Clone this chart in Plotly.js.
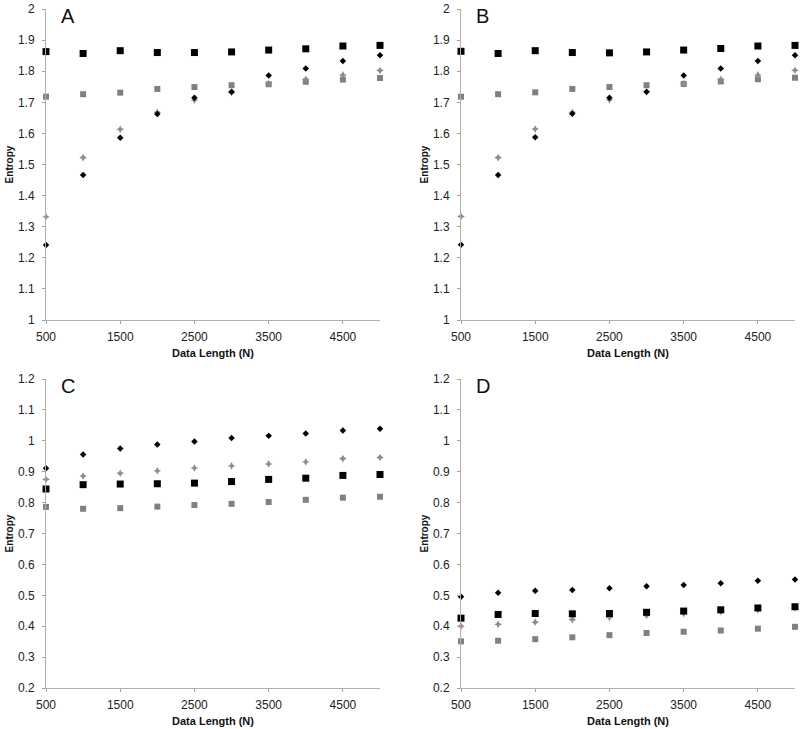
<!DOCTYPE html>
<html>
<head>
<meta charset="utf-8">
<script src="https://cdn.plot.ly/plotly-3.0.1.min.js"></script>
<style>html,body{margin:0;padding:0;background:#fff;}#chart{width:800px;height:729px;}</style>
</head>
<body>
<div id="chart"></div>
<script>
// Data length (N)
const dataLength = [500, 1000, 1500, 2000, 2500, 3000, 3500, 4000, 4500, 5000];

// Panel A
const A_blackSquare = [1.863, 1.857, 1.866, 1.860, 1.860, 1.862, 1.868, 1.872, 1.881, 1.883];
const A_graySquare  = [1.718, 1.726, 1.731, 1.743, 1.749, 1.755, 1.758, 1.766, 1.773, 1.778];
const A_blackDiamond= [1.241, 1.466, 1.586, 1.662, 1.715, 1.734, 1.786, 1.809, 1.833, 1.851];
const A_grayStar    = [1.332, 1.522, 1.613, 1.668, 1.707, 1.731, 1.760, 1.774, 1.788, 1.802];

// Panel B
const B_blackSquare = [1.864, 1.857, 1.866, 1.860, 1.859, 1.862, 1.868, 1.873, 1.881, 1.883];
const B_graySquare  = [1.718, 1.726, 1.732, 1.743, 1.749, 1.755, 1.759, 1.767, 1.774, 1.779];
const B_blackDiamond= [1.242, 1.466, 1.588, 1.663, 1.715, 1.734, 1.786, 1.809, 1.833, 1.851];
const B_grayStar    = [1.333, 1.522, 1.614, 1.668, 1.708, 1.733, 1.760, 1.774, 1.788, 1.803];

// Panel C
const C_blackSquare = [0.844, 0.858, 0.860, 0.861, 0.863, 0.868, 0.875, 0.879, 0.888, 0.891];
const C_graySquare  = [0.786, 0.780, 0.782, 0.787, 0.792, 0.796, 0.802, 0.809, 0.816, 0.819];
const C_blackDiamond= [0.911, 0.956, 0.975, 0.988, 0.998, 1.009, 1.016, 1.024, 1.033, 1.039];
const C_grayStar    = [0.875, 0.886, 0.895, 0.903, 0.912, 0.919, 0.925, 0.932, 0.942, 0.946];

// Panel D
const D_blackSquare = [0.426, 0.438, 0.441, 0.440, 0.441, 0.445, 0.449, 0.453, 0.459, 0.463];
const D_graySquare  = [0.351, 0.353, 0.358, 0.364, 0.371, 0.378, 0.382, 0.386, 0.392, 0.398];
const D_blackDiamond= [0.495, 0.508, 0.515, 0.517, 0.523, 0.529, 0.533, 0.539, 0.547, 0.551];
const D_grayStar    = [0.400, 0.406, 0.413, 0.421, 0.428, 0.435, 0.441, 0.447, 0.453, 0.459];

const panelLetters = ['A', 'B', 'C', 'D'];
const xTickVals = [500, 1500, 2500, 3500, 4500];
const yTicksTop = [1, 1.1, 1.2, 1.3, 1.4, 1.5, 1.6, 1.7, 1.8, 1.9, 2];
const yTicksBottom = [0.2, 0.3, 0.4, 0.5, 0.6, 0.7, 0.8, 0.9, 1, 1.1, 1.2];

const panels = [
  {bs: A_blackSquare, gs: A_graySquare, bd: A_blackDiamond, gst: A_grayStar},
  {bs: B_blackSquare, gs: B_graySquare, bd: B_blackDiamond, gst: B_grayStar},
  {bs: C_blackSquare, gs: C_graySquare, bd: C_blackDiamond, gst: C_grayStar},
  {bs: D_blackSquare, gs: D_graySquare, bd: D_blackDiamond, gst: D_grayStar}
];

const traces = [];
panels.forEach((p, i) => {
  const xa = i === 0 ? 'x' : 'x' + (i + 1);
  const ya = i === 0 ? 'y' : 'y' + (i + 1);
  const base = {x: dataLength, xaxis: xa, yaxis: ya, mode: 'markers', type: 'scatter', showlegend: false, cliponaxis: false, hoverinfo: 'x+y'};
  traces.push(Object.assign({}, base, {y: p.gs, marker: {symbol: 'square', size: 6, color: '#808080'}}));
  traces.push(Object.assign({}, base, {y: p.gst, marker: {symbol: 'star-diamond', size: 5.5, color: '#8c8c8c'}}));
  traces.push(Object.assign({}, base, {y: p.bs, marker: {symbol: 'square', size: 7, color: '#000000'}}));
  traces.push(Object.assign({}, base, {y: p.bd, marker: {symbol: 'diamond', size: 5, color: '#000000'}}));
});

const W = 800, H = 729;
const colX = [[46, 380], [461, 795]];
const rowY = [[9, 320], [379, 688]];
const fx = px => px / W;
const fy = py => 1 - py / H;

const tickFont = {family: 'Liberation Sans, Arial, sans-serif', size: 12, color: '#222'};
const titleFont = {family: 'Liberation Sans, Arial, sans-serif', size: 10, color: '#111', weight: 'bold'};

const layout = {
  width: W, height: H,
  margin: {l: 0, r: 0, t: 0, b: 0},
  paper_bgcolor: '#fff', plot_bgcolor: '#fff',
  showlegend: false,
  annotations: []
};

for (let i = 0; i < 4; i++) {
  const c = colX[i % 2], r = rowY[Math.floor(i / 2)];
  const top = i < 2;
  const xk = i === 0 ? 'xaxis' : 'xaxis' + (i + 1);
  const yk = i === 0 ? 'yaxis' : 'yaxis' + (i + 1);
  const ya = i === 0 ? 'y' : 'y' + (i + 1);
  const xa = i === 0 ? 'x' : 'x' + (i + 1);
  layout[xk] = {
    domain: [fx(c[0]), fx(c[1])], anchor: ya, range: [500, 5000],
    tickvals: xTickVals, ticks: 'outside', ticklen: 3, tickcolor: '#a0a0a0',
    showline: true, linecolor: '#b0b0b0', linewidth: 1, showgrid: false, zeroline: false,
    tickfont: tickFont, ticklabelstandoff: 3,
    title: {text: 'Data Length (N)', font: {family: 'Liberation Sans, Arial, sans-serif', size: 11, color: '#111', weight: 'bold'}, standoff: 5}
  };
  layout[yk] = {
    domain: [fy(r[1]), fy(r[0])], anchor: xa,
    range: top ? [1, 2] : [0.2, 1.2],
    tickvals: top ? yTicksTop : yTicksBottom,
    ticktext: (top ? yTicksTop : yTicksBottom).map(v => String(v)),
    ticks: 'outside', ticklen: 3, tickcolor: '#a0a0a0',
    showline: true, linecolor: '#b0b0b0', linewidth: 1, showgrid: false, zeroline: false,
    tickfont: tickFont, ticklabelstandoff: 5,
    title: {text: 'Entropy', font: titleFont, standoff: 2}
  };
  layout.annotations.push({
    text: panelLetters[i], xref: 'paper', yref: 'paper',
    x: fx(c[0] + 13), y: fy(r[0] - 6), xanchor: 'left', yanchor: 'top',
    showarrow: false, font: {family: 'Liberation Sans, Arial, sans-serif', size: 20, color: '#111'}
  });
}

Plotly.newPlot('chart', traces, layout, {staticPlot: true, displayModeBar: false});
</script>
</body>
</html>
